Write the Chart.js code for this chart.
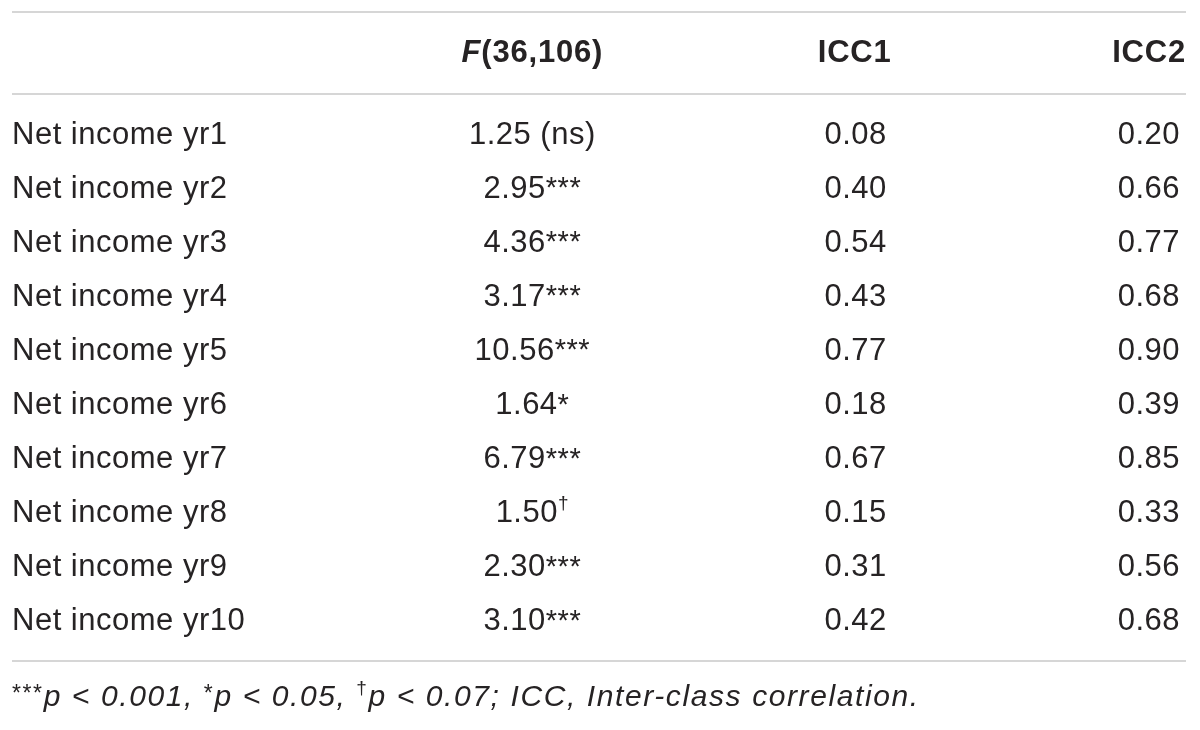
<!DOCTYPE html>
<html>
<head>
<meta charset="utf-8">
<script src="https://cdn.jsdelivr.net/npm/chart.js@4.4.0/dist/chart.umd.min.js"></script>
<style>
  html, body { margin: 0; padding: 0; background: #fff; }
  #wrap { width: 1200px; height: 730px; position: relative; }
</style>
</head>
<body>
<div id="wrap"><canvas id="chart"></canvas></div>
<script>
'use strict';

// table data
const columns = ['', 'F(36,106)', 'ICC1', 'ICC2'];
const rowLabels = ['Net income yr1', 'Net income yr2', 'Net income yr3', 'Net income yr4', 'Net income yr5',
    'Net income yr6', 'Net income yr7', 'Net income yr8', 'Net income yr9', 'Net income yr10'];
const fValues = ['1.25', '2.95', '4.36', '3.17', '10.56', '1.64', '6.79', '1.50', '2.30', '3.10'];
const fSig = [' (ns)', '***', '***', '***', '***', '*', '***', '†', '***', '***'];
const icc1 = ['0.08', '0.40', '0.54', '0.43', '0.77', '0.18', '0.67', '0.15', '0.31', '0.42'];
const icc2 = ['0.20', '0.66', '0.77', '0.68', '0.90', '0.39', '0.85', '0.33', '0.56', '0.68'];
const footnote = [
    { t: '***', sup: true }, { t: 'p < 0.001, ' },
    { t: '*', sup: true }, { t: 'p < 0.05, ' },
    { t: '†', sup: true }, { t: 'p < 0.07; ICC, Inter-class correlation.' }
];

const FAMILY = '"Liberation Sans", Arial, sans-serif';
const INK = '#262324';
const RULE = '#c8c8c8';

let canvasElem = document.getElementById('chart');

function points(col, values) {
    return values.map((v, i) => ({ x: col, y: rowLabels[i], text: v, sig: col === columns[1] ? fSig[i] : '' }));
}

// draw a list of text runs, some of them superscript
function drawRuns(ctx, runs, x, y, align, spacing) {
    ctx.letterSpacing = (spacing || 0) + 'px';
    let total = 0;
    runs.forEach(r => { ctx.font = r.font; total += ctx.measureText(r.t).width; });
    let cx = align === 'center' ? x - total / 2 : align === 'right' ? x - total : x;
    ctx.textAlign = 'left';
    runs.forEach(r => {
        ctx.font = r.font;
        ctx.fillText(r.t, cx, y + (r.dy || 0));
        cx += ctx.measureText(r.t).width;
    });
    ctx.letterSpacing = '0px';
}

function sigRun(s, size, style, scale) {
    if (s === '†') return { t: s, font: style + ' ' + Math.round(size * 0.62) + 'px ' + FAMILY, dy: -size * 0.32 };
    if (s.indexOf('*') >= 0) {
        const k = scale || 0.92;
        return { t: s, font: style + ' ' + Math.round(size * k) + 'px ' + FAMILY, dy: -size * (0.92 - k) * 0.9 };
    }
    return { t: s, font: style + ' ' + size + 'px ' + FAMILY };
}

const tablePlugin = {
    id: 'tablePlugin',
    afterDatasetsDraw(chart, args, opts) {
        const ctx = chart.ctx;
        const area = chart.chartArea;
        const y = chart.scales.y;
        const x = chart.scales.x;
        const size = opts.size;
        const firstRow = y.getPixelForValue(0);
        const lastRow = y.getPixelForValue(rowLabels.length - 1);
        const lineL = area.left, lineR = area.right + 6;

        ctx.save();
        ctx.fillStyle = INK;
        ctx.textBaseline = 'middle';
        const yOff = opts.textShift;

        // rules
        ctx.strokeStyle = RULE;
        ctx.lineWidth = 1.6;
        [firstRow - opts.topRule, firstRow - opts.headRule, lastRow + opts.footRule].forEach(ly => {
            ctx.beginPath();
            ctx.moveTo(lineL, ly);
            ctx.lineTo(lineR, ly);
            ctx.stroke();
        });

        // header
        const headY = firstRow - opts.headGap + yOff;
        const bold = '700 ' + size + 'px ' + FAMILY;
        drawRuns(ctx, [{ t: 'F', font: 'italic ' + bold }, { t: columns[1].slice(1), font: bold }],
            x.getPixelForValue(1) + opts.dx[1], headY, 'center', opts.headSpacing);
        drawRuns(ctx, [{ t: columns[2], font: bold }], x.getPixelForValue(2) + opts.dx[2] - 1, headY, 'center', opts.headSpacing);
        drawRuns(ctx, [{ t: columns[3], font: bold }], x.getPixelForValue(3) + opts.dx[3] + 6, headY, 'right', opts.headSpacing);

        // row labels
        const plain = size + 'px ' + FAMILY;
        rowLabels.forEach((lab, i) => {
            drawRuns(ctx, [{ t: lab, font: plain }], x.getPixelForValue(0), y.getPixelForValue(i) + yOff, 'left', opts.spacing);
        });

        // cells
        chart.data.datasets.forEach((ds, di) => {
            const meta = chart.getDatasetMeta(di);
            const col = di + 1;
            meta.data.forEach((el, i) => {
                const p = ds.data[i];
                const runs = [{ t: p.text, font: plain }];
                if (p.sig) runs.push(sigRun(p.sig, size, ''));
                drawRuns(ctx, runs, el.x + opts.dx[col], el.y + yOff, col === 3 ? 'right' : 'center', opts.spacing);
            });
        });

        // footnote
        const fsize = opts.footSize;
        const it = 'italic ' + fsize + 'px ' + FAMILY;
        const runs = footnote.map(f => f.sup ? sigRun(f.t, fsize, '', 0.78) : { t: f.t, font: it });
        drawRuns(ctx, runs, x.getPixelForValue(0), lastRow + opts.footGap + yOff, 'left', opts.footSpacing);
        ctx.restore();
    }
};

function renderChart() {
    const ctx = canvasElem.getContext('2d');
    new Chart(ctx, {
        type: 'scatter',
        data: {
            datasets: [
                { label: columns[1], data: points(columns[1], fValues) },
                { label: columns[2], data: points(columns[2], icc1) },
                { label: columns[3], data: points(columns[3], icc2) }
            ]
        },
        options: {
            responsive: true,
            maintainAspectRatio: false,
            animation: false,
            events: [],
            layout: { padding: { top: 107, bottom: 82, left: 12, right: 20 } },
            elements: { point: { radius: 0, hoverRadius: 0 } },
            scales: {
                x: { type: 'category', labels: columns, offset: false, display: false },
                y: { type: 'category', labels: rowLabels, offset: true, display: false }
            },
            plugins: {
                legend: { display: false },
                tooltip: { enabled: false },
                tablePlugin: {
                    size: 31,
                    footSize: 30,
                    spacing: 0.5,
                    headSpacing: 0.8,
                    footSpacing: 1.6,
                    textShift: 1,
                    dx: [0, 131, 65, 0],
                    topRule: 122,
                    headRule: 40,
                    headGap: 82,
                    footRule: 40,
                    footGap: 76
                }
            }
        },
        plugins: [tablePlugin]
    });
}

renderChart();
</script>
</body>
</html>
